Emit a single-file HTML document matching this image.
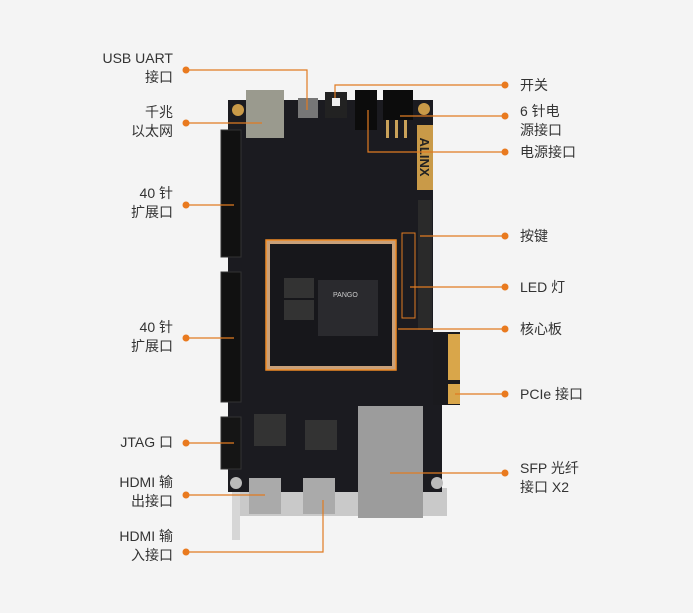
<!DOCTYPE html>
<html><head><meta charset="utf-8"><style>
html,body{margin:0;padding:0;background:#f4f4f4;}
svg{display:block}
text{font-family:"Liberation Sans","Noto Sans CJK SC",sans-serif;font-size:14px;fill:#333;}
</style></head><body>
<svg width="693" height="613" viewBox="0 0 693 613" xmlns="http://www.w3.org/2000/svg">
<rect width="693" height="613" fill="#f4f4f4"/>
<rect x="232" y="488" width="215" height="28" fill="#c9c9c9"/>
<rect x="232" y="490" width="8" height="50" fill="#d6d6d6"/>
<rect x="433" y="332" width="27" height="73" fill="#1a1a1e"/>
<rect x="448" y="334" width="12" height="46" fill="#d9a64a"/>
<rect x="448" y="384" width="12" height="20" fill="#d9a64a"/>
<path d="M228 100 H433 V332 H433 V405 H442 V492 H228 Z" fill="#1b1b20"/>
<rect x="221" y="130" width="20" height="127" fill="#111" stroke="#333"/>
<rect x="221" y="272" width="20" height="130" fill="#111" stroke="#333"/>
<rect x="221" y="417" width="20" height="52" fill="#151515" stroke="#333"/>
<rect x="246" y="90" width="38" height="48" fill="#9a9a8e"/>
<rect x="298" y="98" width="20" height="20" fill="#777"/>
<rect x="325" y="92" width="22" height="26" fill="#222"/>
<rect x="332" y="98" width="8" height="8" fill="#eee"/>
<rect x="355" y="90" width="22" height="40" fill="#0c0c0c"/>
<rect x="383" y="90" width="30" height="30" fill="#0c0c0c"/>
<rect x="386" y="120" width="3" height="18" fill="#c9a25a"/>
<rect x="395" y="120" width="3" height="18" fill="#c9a25a"/>
<rect x="404" y="120" width="3" height="18" fill="#c9a25a"/>
<circle cx="238" cy="110" r="6" fill="#c99a48"/>
<circle cx="424" cy="109" r="6" fill="#c99a48"/>
<rect x="417" y="125" width="16" height="65" fill="#c99a48"/>
<text x="425" y="162" text-anchor="middle" transform="rotate(90 425 157)" style="font-size:13px;font-weight:bold;fill:#222">ALINX</text>
<rect x="418" y="200" width="14" height="130" fill="#2a2a2a"/>
<rect x="402" y="233" width="13" height="85" fill="none" stroke="#e07b22"/>
<rect x="266" y="240" width="130" height="130" fill="#c9a079" stroke="#f08a24" stroke-width="1.5"/>
<rect x="270" y="244" width="122" height="122" fill="#17171b"/>
<rect x="318" y="280" width="60" height="56" fill="#2a2a2e"/>
<rect x="284" y="278" width="30" height="20" fill="#333"/>
<rect x="284" y="300" width="30" height="20" fill="#333"/>
<text x="333" y="297" style="font-size:7px;fill:#ccc">PANGO</text>
<rect x="254" y="414" width="32" height="32" fill="#333"/>
<rect x="305" y="420" width="32" height="30" fill="#333"/>
<rect x="249" y="478" width="32" height="36" fill="#aaa"/>
<rect x="303" y="478" width="32" height="36" fill="#aaa"/>
<circle cx="236" cy="483" r="6" fill="#bbb"/>
<circle cx="437" cy="483" r="6" fill="#bbb"/>
<rect x="358" y="406" width="65" height="112" fill="#9c9c9c"/>
<g stroke="#e07b22" stroke-width="1.2" fill="none">
<path d="M186 70 H307 V110"/>
<path d="M186 123 H262"/>
<path d="M186 205 H234"/>
<path d="M186 338 H234"/>
<path d="M186 443 H234"/>
<path d="M186 495 H265"/>
<path d="M186 552 H323 V500"/>
<path d="M505 85 H335 V98"/>
<path d="M505 116 H400"/>
<path d="M505 152 H368 V110"/>
<path d="M505 236 H420"/>
<path d="M505 287 H410"/>
<path d="M505 329 H398"/>
<path d="M505 394 H455"/>
<path d="M505 473 H390"/>
</g>
<g fill="#e97a1f">
<circle cx="186" cy="70" r="3.5"/><circle cx="186" cy="123" r="3.5"/><circle cx="186" cy="205" r="3.5"/>
<circle cx="186" cy="338" r="3.5"/><circle cx="186" cy="443" r="3.5"/><circle cx="186" cy="495" r="3.5"/>
<circle cx="186" cy="552" r="3.5"/>
<circle cx="505" cy="85" r="3.5"/><circle cx="505" cy="116" r="3.5"/><circle cx="505" cy="152" r="3.5"/>
<circle cx="505" cy="236" r="3.5"/><circle cx="505" cy="287" r="3.5"/><circle cx="505" cy="329" r="3.5"/>
<circle cx="505" cy="394" r="3.5"/><circle cx="505" cy="473" r="3.5"/>
</g>
<g text-anchor="end">
<text x="173" y="63">USB UART</text><text x="173" y="82">接口</text>
<text x="173" y="117">千兆</text><text x="173" y="136">以太网</text>
<text x="173" y="198">40 针</text><text x="173" y="217">扩展口</text>
<text x="173" y="332">40 针</text><text x="173" y="351">扩展口</text>
<text x="173" y="447">JTAG 口</text>
<text x="173" y="487">HDMI 输</text><text x="173" y="506">出接口</text>
<text x="173" y="541">HDMI 输</text><text x="173" y="560">入接口</text>
</g>
<g>
<text x="520" y="90">开关</text>
<text x="520" y="116">6 针电</text><text x="520" y="135">源接口</text>
<text x="520" y="157">电源接口</text>
<text x="520" y="241">按键</text>
<text x="520" y="292">LED 灯</text>
<text x="520" y="334">核心板</text>
<text x="520" y="399">PCIe 接口</text>
<text x="520" y="473">SFP 光纤</text><text x="520" y="492">接口 X2</text>
</g>
</svg>
</body></html>
